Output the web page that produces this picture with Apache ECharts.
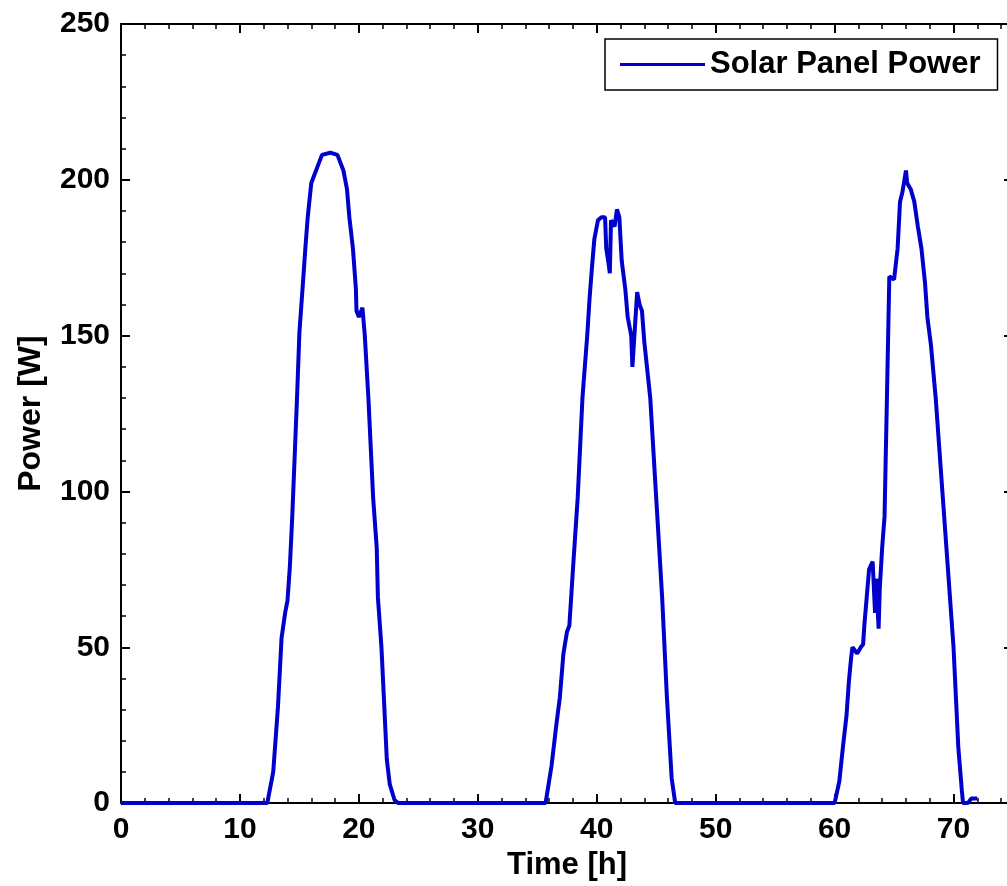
<!DOCTYPE html>
<html>
<head>
<meta charset="utf-8">
<script src="https://cdn.jsdelivr.net/npm/echarts@6/dist/echarts.min.js"></script>
<style>
  html, body { margin: 0; padding: 0; background: #fff; overflow: hidden; }
  /* the reference is cropped on the right, so the canvas runs past the window */
  #chart { width: 1030px; height: 886px; }
</style>
</head>
<body>
<div id="chart"></div>
<script>
// time in hours, power in W
const timeH = [
  0, 12.3, 12.8, 13.2, 13.5, 13.8, 14.0, 14.2, 14.4, 14.8, 15.0, 15.3, 15.5, 15.7, 16.0, 16.5, 16.9, 17.6, 18.2,
  18.7, 19.0, 19.2, 19.5, 19.75, 19.8, 20.0, 20.3, 20.5, 20.8, 21.2, 21.5, 21.6, 21.9, 22.1, 22.35, 22.6, 23.0, 23.3,
  35.7, 36.2, 36.6, 36.9, 37.2, 37.5, 37.7, 38.0, 38.4, 38.8, 39.2, 39.4, 39.6, 39.8, 40.1, 40.4, 40.7, 40.8,
  41.0, 41.1, 41.2, 41.5, 41.7, 41.9, 42.1, 42.4, 42.6, 42.9, 43.0, 43.2, 43.4, 43.6, 43.8, 44.0, 44.5, 45.0,
  45.5, 45.9, 46.3, 46.6,
  60.0, 60.4, 60.7, 61.0, 61.2, 61.4, 61.5, 61.9, 62.2, 62.4, 62.5, 62.7, 62.9, 63.2, 63.4, 63.5, 63.7, 63.8,
  64.0, 64.2, 64.4, 64.6, 65.0, 65.3, 65.5, 65.7, 66.0, 66.1, 66.4, 66.7, 67.0, 67.3, 67.6, 67.8, 68.1, 68.5,
  69.1, 69.4, 69.7, 70.0, 70.2, 70.4, 70.7, 70.8, 71.2, 71.5, 72.0
];
const powerW = [
  0, 0, 10, 31, 53, 61, 65, 76, 92, 130, 151, 167, 178, 188, 199, 204, 208, 208.7, 208,
  203, 197, 188, 178, 165, 158, 156, 159, 150, 130, 98, 82, 66, 50, 34, 14, 6, 1, 0,
  0, 12, 25, 34, 48, 55, 57, 75, 98, 130, 150, 162, 172, 181, 187, 188, 188, 178,
  173, 170, 187, 185, 190.5, 188, 174, 165, 156, 150, 140, 152, 164, 160, 158, 148, 130, 98,
  66, 34, 8, 0,
  0, 7, 18, 28, 39, 47, 50, 48, 50, 51, 57, 66, 75, 77.5, 61, 72, 56, 69,
  82, 92, 130, 169, 168, 178, 193, 196, 203, 199, 197, 193, 185, 178, 167, 156, 147, 130,
  98, 82, 66, 50, 34, 18, 4, 0, 0, 1.5, 1.5
];
const seriesName = 'Solar Panel Power';

const chart = echarts.init(document.getElementById('chart'));
const font = "'Liberation Sans', Arial, sans-serif";
const axisLine = { show: true, onZero: false, lineStyle: { color: '#000', width: 2 } };
const tick = { inside: true, length: 9, lineStyle: { color: '#000', width: 2 } };
const minor = { show: true, splitNumber: 5, length: 5, lineStyle: { color: '#000', width: 1.5 } };
const label = { color: '#000', fontFamily: font, fontWeight: 'bold', fontSize: 30 };

const xBase = { type: 'value', min: 0, max: 75, interval: 10, axisLine, axisTick: tick, minorTick: minor, splitLine: { show: false } };
const yBase = { type: 'value', min: 0, max: 250, interval: 50, axisLine, axisTick: tick, minorTick: minor, splitLine: { show: false } };

chart.setOption({
  animation: false,
  backgroundColor: '#fff',
  grid: { left: 121, top: 24, width: 892, height: 781 },
  legend: {
    data: [seriesName],
    left: 605, top: 39,
    padding: [10, 17, 10, 15],
    icon: 'rect',
    itemWidth: 85, itemHeight: 3,
    borderColor: '#000', borderWidth: 1.5,
    textStyle: { color: '#000', fontFamily: font, fontWeight: 'bold', fontSize: 31 }
  },
  xAxis: [
    Object.assign({}, xBase, {
      position: 'bottom',
      axisLabel: Object.assign({ margin: 12, showMaxLabel: false }, label),
      name: 'Time [h]', nameLocation: 'middle', nameGap: 44,
      nameTextStyle: { color: '#000', fontFamily: font, fontWeight: 'bold', fontSize: 31 }
    }),
    Object.assign({}, xBase, { position: 'top', axisLabel: { show: false } })
  ],
  yAxis: [
    Object.assign({}, yBase, {
      position: 'left',
      axisLabel: Object.assign({ margin: 11 }, label),
      name: 'Power [W]', nameLocation: 'middle', nameGap: 74, nameRotate: 90,
      nameTextStyle: { color: '#000', fontFamily: font, fontWeight: 'bold', fontSize: 32 }
    }),
    Object.assign({}, yBase, { position: 'right', axisLabel: { show: false } })
  ],
  series: [{
    name: seriesName,
    type: 'line',
    symbol: 'none',
    data: timeH.map((t, i) => [t, powerW[i]]),
    lineStyle: { color: '#0000cc', width: 4 },
    itemStyle: { color: '#0000cc' }
  }]
});
</script>
</body>
</html>
